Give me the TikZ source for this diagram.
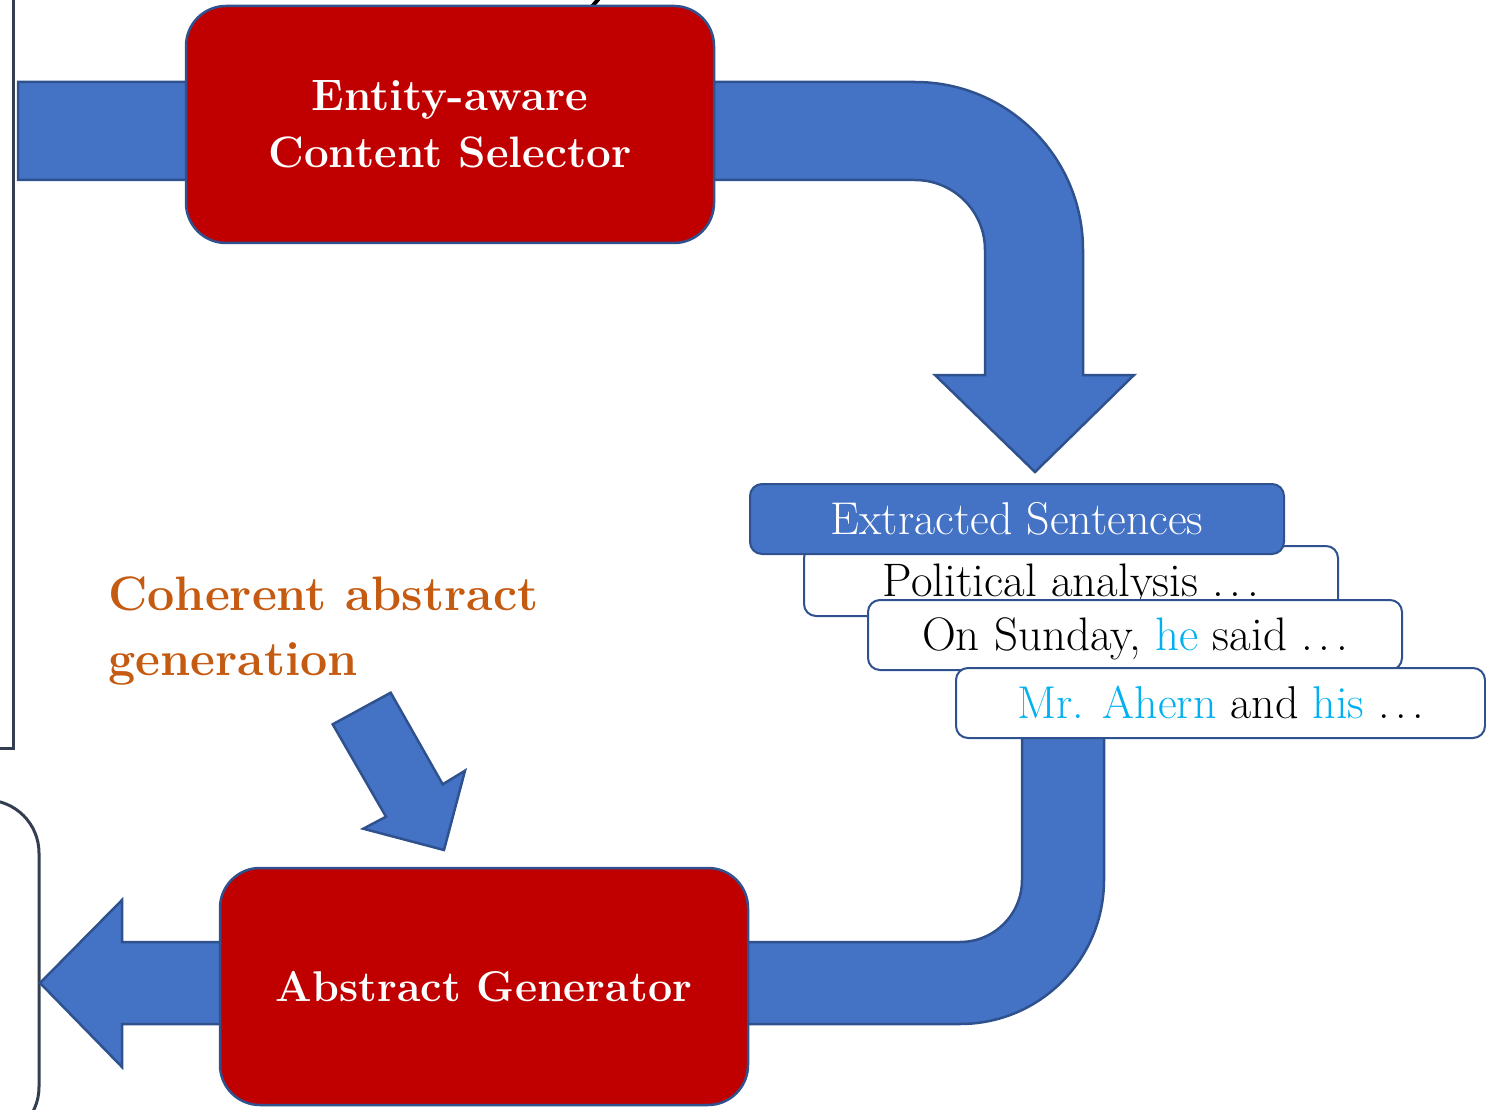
\documentclass[tikz,border=0pt]{standalone}
\definecolor{arrowblue}{HTML}{4472C4}
\definecolor{edgeblue}{HTML}{2F528F}
\definecolor{boxred}{HTML}{C00000}
\definecolor{titleorange}{HTML}{C55A11}
\definecolor{mentioncyan}{HTML}{00B0F0}
\definecolor{framegray}{HTML}{333F50}

% spaced ellipsis
\newcommand\trail{.\kern0.12em.\kern0.12em.}

\tikzset{
  blockarrow/.style={fill=arrowblue, draw=edgeblue, line width=2.5pt, line join=miter},
  modulebox/.style={fill=boxred, draw=edgeblue, line width=2.5pt, rounded corners=40pt,
    minimum width=528pt, minimum height=237pt, inner sep=0pt,
    text=white, align=center, font=\bfseries\fontsize{44}{58}\selectfont},
  sentbox/.style={fill=white, draw=edgeblue, line width=2pt, rounded corners=12pt,
    minimum width=534pt, minimum height=70pt, inner sep=0pt,
    text height=32pt, text depth=1pt,
    font=\fontsize{47}{50}\selectfont},
  headbox/.style={sentbox, fill=arrowblue, text=white, font=\fontsize{46}{50}\selectfont},
  frameline/.style={draw=framegray, line width=3pt},
  titletext/.style={text=titleorange, inner sep=0pt, font=\bfseries\fontsize{48.4}{65}\selectfont},
}

\begin{document}
\begin{tikzpicture}[x=1pt, y=-1pt]
\useasboundingbox (0,0) rectangle (1486,1110);

% outer frames at the left edge
\draw[frameline] (13,-10) -- (13,748) -- (-10,748);
\draw[frameline, rounded corners=53pt] (-40,800) -- (39,800) -- (39,1140) -- (-40,1140);
\draw[line width=4pt] (590,9) -- (601,-4);

% arrow from the input through the selector down to the extracted sentences
\path[blockarrow] (18,82) -- (915,82) arc[start angle=-90, end angle=0, radius=168]
  -- (1083,375) -- (1134,375) -- (1035,472) -- (935,375) -- (985,375) -- (985,250)
  arc[start angle=0, end angle=-90, radius=70] -- (18,180) -- cycle;

\node[modulebox] (sel) at (450,124.5) {Entity-aware\\[-1pt]Content Selector};

% arrow from the extracted sentences through the generator to the output
\path[blockarrow] (1022,730) -- (1104,730) -- (1104,880)
  arc[start angle=0, end angle=90, radius=144] -- (122,1024) -- (122,1067) -- (40,983)
  -- (122,900) -- (122,942) -- (960,942) arc[start angle=90, end angle=0, radius=62]
  -- cycle;

\node[modulebox, font=\bfseries\fontsize{43}{58}\selectfont] (gen) at (484,986.5) {Abstract Generator};

% coherence hint pointing at the generator
\path[blockarrow] (332.7,724.3) -- (390.7,692.7) -- (442.7,784.3) -- (465,770.7)
  -- (444,850) -- (363.3,828.7) -- (386,816.7) -- cycle;

\node[titletext, anchor=base west] (coh1) at (108,610) {Coherent abstract};
\node[titletext, anchor=base west] (coh2) at (108,675) {generation};

% stack of extracted sentences
\node[sentbox] (s1) at (1071,581) {Political analysis \trail};
\node[headbox] (head) at (1017,519) {Extracted Sentences};
\node[sentbox] (s2) at (1135,635) {On Sunday, \textcolor{mentioncyan}{he} said \trail};
\node[sentbox, minimum width=529pt, font=\fontsize{46}{50}\selectfont] (s3) at (1220.5,703) {\textcolor{mentioncyan}{Mr. Ahern} and \textcolor{mentioncyan}{his} \trail};
\end{tikzpicture}
\end{document}
